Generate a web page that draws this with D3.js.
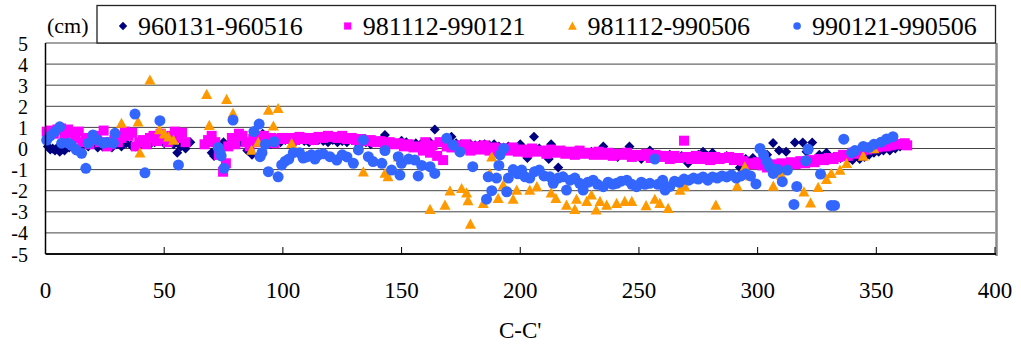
<!DOCTYPE html>
<html><head><meta charset="utf-8">
<script src="https://cdn.jsdelivr.net/npm/d3@7"></script>
<style>body{margin:0;background:#fff}svg{display:block}</style>
</head><body><svg id="c" width="1021" height="349"></svg>
<script>
const seriesNames = ["960131-960516","981112-990121","981112-990506","990121-990506"];
const xTicks = [0,50,100,150,200,250,300,350,400];
const yTicks = [-5,-4,-3,-2,-1,0,1,2,3,4,5];
const xTitle = "C-C'";
const yUnit = "(cm)";

const s960131 = [[1,0.1],[2,-0.05],[3,0.0],[4,-0.1],[5,0.05],[6,-0.15],[7,0.0],[8,-0.1],[10,0.05],[12,0.1],[14,0.0],[16,0.15],[18,0.1],[20,0.2],[22,0.05],[24,0.1],[26,0.15],[28,0.05],[30,0.2],[32,0.1],[34,0.25],[36,0.15],[38,0.1],[40,0.2],[42,0.3],[44,0.2],[46,0.3],[48,0.4],[50,0.25],[52,0.35],[54,0.2],[55.5,-0.2],[57,0.1],[59,0.0],[61,0.3],[68,0.2],[70,-0.2],[71,-0.35],[73,0.1],[75,0.3],[77,0.15],[79,0.4],[81,0.2],[83,0.3],[85,-0.1],[87,-0.3],[89,0.3],[91.5,0.7],[93,0.5],[95,0.2],[97,0.35],[99,0.3],[101,0.4],[103,0.35],[105,0.3],[107,0.4],[109,0.35],[111,0.3],[113,0.45],[115,0.4],[117,0.35],[119,0.3],[121,0.4],[123,0.3],[125,0.35],[127,0.3],[129,0.4],[131,0.3],[133,0.25],[135,0.3],[137,0.2],[139,0.3],[141,0.35],[143,0.64],[145,0.3],[147,0.25],[150,0.37],[152,0.3],[154,0.2],[156,0.25],[158,0.2],[160,0.15],[162,0.3],[164,0.9],[166,0.3],[168,0.2],[171,0.56],[173,0.25],[175,0.2],[177,0.15],[179,0.2],[181,0.15],[183,0.18],[185,0.2],[187,0.15],[189,0.2],[191,0.1],[193,0.05],[195,0.1],[197,0.0],[200,0.2],[203,-0.45],[205.8,0.56],[208,0.0],[210,-0.1],[212,-0.5],[213,0.2],[216,-0.9],[218,-0.1],[221,-0.15],[224,-0.1],[227,-0.2],[230,-0.15],[233,-0.2],[235,0.1],[238,-0.25],[241,-0.4],[244,-0.2],[246,0.1],[249,-0.3],[251,-0.5],[254.6,-0.1],[257,-0.3],[260,-0.35],[263,-0.3],[266,-0.4],[268,-0.35],[270.7,-0.7],[273,-0.4],[275,-0.3],[277,-0.15],[279,-0.35],[281,-0.2],[284,-0.4],[287,-0.35],[290,-0.45],[292.5,-0.9],[295,-0.5],[298,-0.45],[301,-0.6],[304,-0.3],[306.5,0.26],[309,-0.1],[312,-0.15],[315.7,0.28],[319,0.28],[320.6,-0.15],[323,0.28],[326,-0.3],[329,-0.2],[332,-0.4],[335,-0.45],[338,-0.5],[340,-0.55],[343,-0.5],[345,-0.4],[347,-0.3],[349,-0.2],[351,-0.15],[353,-0.1],[355.7,-0.1],[358,0.0],[360,0.1],[362,0.2]];

const s981112a = [[0.5,0.8],[2,0.85],[3.5,0.7],[5,0.9],[6.5,0.95],[8,0.6],[9.5,0.9],[11,0.75],[12.5,0.5],[14,0.8],[15.5,0.3],[17,0.5],[18.5,0.2],[20,0.4],[21.5,0.6],[23,0.3],[24.5,0.85],[26,0.1],[27.5,0.2],[29,0.4],[30.5,0.3],[32,0.5],[33.5,0.8],[35,0.6],[36.5,0.75],[38,0.1],[39.5,0.3],[41,0.4],[42.5,0.2],[44,0.5],[45.5,0.6],[47,0.35],[48.5,0.7],[50,0.45],[51.5,0.3],[53,0.6],[54.5,0.8],[56,0.5],[57.5,0.75],[59,0.3],[67,0.2],[68.5,0.4],[70,0.6],[71.5,0.3],[73,-0.3],[74.8,-1.1],[76,-0.7],[77,0.1],[78.5,0.5],[80,0.2],[81.5,0.7],[83,0.6],[84.5,0.3],[86,0.1],[87.5,0.45],[89,0.55],[90.5,0.3],[92,0.6],[93.5,0.4],[95,0.5],[96.5,0.25],[98,0.45],[99.5,0.5],[101,0.45],[103,0.5],[105,0.4],[107,0.55],[109,0.45],[111,0.5],[113,0.4],[115,0.55],[117,0.5],[119,0.6],[121,0.55],[123,0.5],[125,0.6],[127,0.45],[129,0.5],[131,0.4],[133,0.45],[135,0.35],[137,0.4],[139,0.3],[141,0.35],[143,0.25],[145,0.3],[147,0.2],[149,0.25],[151,0.1],[153,0.2],[155,0.05],[157,0.1],[159,-0.1],[160,0.3],[162,-0.2],[163,0.15],[165,-0.35],[166,0.3],[167.5,-0.55],[169,0.1],[171,0.05],[173,0.15],[175,0.0],[177,0.2],[179,-0.1],[181,0.1],[183,-0.05],[185,0.15],[187,-0.1],[189,0.05],[191,-0.15],[193,0.0],[195,-0.1],[197,0.05],[199,-0.15],[201,-0.05],[203,-0.2],[205,0.0],[207,-0.15],[209,-0.1],[211,-0.25],[213,-0.05],[215,-0.2],[217,-0.1],[219,-0.25],[221,-0.15],[223,-0.3],[225,-0.1],[227,-0.25],[229,-0.2],[231,-0.3],[233,-0.15],[235,-0.3],[237,-0.2],[239,-0.35],[241,-0.25],[243,-0.3],[245,-0.2],[247,-0.4],[249,-0.3],[251,-0.35],[253,-0.25],[255,-0.45],[257,-0.3],[259,-0.4],[261,-0.35],[263,-0.5],[265,-0.35],[267,-0.45],[269,0.37],[270,-0.4],[272,-0.5],[274,-0.35],[276,-0.5],[278,-0.4],[280,-0.55],[282,-0.4],[284,-0.5],[286,-0.45],[288,-0.4],[290,-0.55],[292,-0.45],[294,-0.6],[296,-0.7],[298,-0.75],[300,-0.65],[302,-0.8],[304,-0.9],[306,-0.75],[308,-0.85],[310,-0.7],[312,-0.8],[314,-0.65],[316,-0.75],[318,-0.6],[320,-0.7],[322,-0.55],[324,-0.65],[326,-0.5],[328,-0.55],[330,-0.45],[332,-0.5],[334,-0.4],[336,-0.3],[338,-0.35],[340,-0.2],[342,-0.25],[344,-0.1],[346,-0.05],[348,0.0],[350,0.05],[352,0.1],[354,0.1],[356,0.15],[358,0.2],[360,0.2],[362,0.25],[363,0.15]];

const s981112b = [[32,1.2],[39,1.27],[39.8,-0.2],[44,3.25],[48,0.9],[50,0.7],[51.8,0.55],[53.9,0.4],[67.9,2.57],[69,1.1],[76.3,2.33],[79,1.67],[86.8,-0.07],[89.6,0.3],[93.9,1.82],[96,1.07],[98,1.9],[103.7,0.25],[110,-0.35],[133.9,-1.1],[143,-1.17],[144.3,-1.33],[148.6,-0.39],[162,-2.88],[168.3,-2.68],[170.4,-2.0],[175.3,-1.89],[177.4,-2.1],[178,-2.47],[179,-3.58],[184.4,-2.6],[187.2,-1.18],[188,-0.39],[190.7,-2.36],[192.8,-1.73],[197,-2.4],[198.5,-1.97],[204,-1.97],[207,-1.8],[213,-2.1],[215,-2.36],[219.5,-2.68],[223,-2.88],[223.7,-2.4],[228,-2.5],[230,-2.2],[232,-2.91],[233.6,-2.5],[236.4,-2.68],[240.6,-2.6],[244,-2.5],[247,-2.5],[253,-2.7],[256.7,-2.4],[258.8,-2.6],[262.3,-2.83],[267.3,-1.97],[269.4,-1.8],[282.4,-2.68],[291.4,-1.78],[294.6,-0.86],[297,-1.3],[306.6,-1.78],[310,-1.25],[319.5,-2.05],[322.3,-2.57],[325.5,-1.84],[329,-1.46],[331,-1.18],[334.7,-1.02],[337.5,-0.7],[344.5,-0.36],[349,0.0]];

const s990121 = [[0.5,0.4],[2,0.6],[4,0.8],[6,1.03],[6.8,0.25],[9.6,0.25],[11,0.15],[13,-0.07],[15.2,-0.23],[17,-0.94],[18,0.25],[20,0.64],[22,0.4],[24.3,0.25],[26,0.3],[28.6,0.25],[29.3,0.72],[37.7,1.63],[41.9,-1.15],[48.2,1.32],[56,-0.78],[72.8,0.05],[73.5,-0.2],[74,-0.35],[75.2,-0.94],[79,1.35],[87.8,0.8],[90,1.16],[90.4,-0.39],[91.2,-0.2],[92.6,0.2],[93.9,-1.1],[96.3,0.32],[98,-1.34],[99.5,-0.78],[101,-0.6],[102.5,-0.5],[104.4,-0.2],[107,-0.2],[108.5,-0.45],[110,-0.4],[112,-0.3],[113.5,-0.5],[115,-0.3],[117,-0.25],[119.8,-0.39],[122.7,-0.55],[125,-0.3],[127,-0.4],[129.7,-0.7],[131.8,-0.07],[133.9,0.4],[136,-0.39],[138,-0.62],[141.7,-0.7],[143,-0.1],[145.8,-1.02],[148.6,-0.39],[149.3,-1.26],[150,-0.7],[153,-0.5],[155.6,-0.55],[157,-1.3],[158.5,-0.8],[162,-0.86],[164,-1.18],[169,0.48],[171.8,0.16],[174.6,-0.16],[180,-0.86],[185.8,-2.4],[186.5,-1.34],[188,-2.0],[190,-1.4],[191,-0.8],[191.5,-0.3],[193,0.0],[194.3,-2.05],[195,-1.4],[197,-1.0],[199,-1.2],[200.6,-1.02],[202,-1.34],[204,-1.4],[206,-1.1],[208,-1.02],[210,-1.3],[212.5,-1.34],[213.9,-1.65],[216,-1.4],[218,-1.34],[219.5,-1.97],[221,-1.5],[223,-1.4],[225,-1.65],[226.5,-1.97],[228.5,-1.6],[230.7,-1.5],[232.5,-1.7],[235,-1.81],[237,-1.6],[239,-1.7],[240.6,-1.65],[242.5,-1.55],[244.9,-1.5],[247,-1.7],[249,-1.81],[251,-1.6],[252.5,-1.7],[254.6,-1.65],[256.7,-0.5],[258,-1.7],[260,-1.5],[261,-1.97],[263,-1.8],[265,-1.55],[267,-1.6],[269,-1.45],[271,-1.5],[273,-1.4],[275,-1.45],[277,-1.35],[279,-1.5],[281,-1.35],[283,-1.4],[285,-1.3],[287,-1.35],[289,-1.25],[291,-1.4],[293,-1.3],[295,-1.2],[297,-1.3],[299.3,-1.68],[301,0.0],[302.5,-0.3],[304,-0.62],[305,-0.86],[306.6,-1.18],[307,-1.0],[308.5,-1.0],[310.4,-1.57],[312.5,-1.02],[315.3,-2.65],[316.5,-1.8],[320.3,-0.58],[321.3,-0.04],[326.5,-1.21],[331,-2.7],[332.4,-2.7],[336.3,0.44],[339.6,-0.2],[341,-0.1],[344.5,0.1],[347,0.05],[349,0.2],[352,0.3],[354.3,0.45],[357,0.56]];

const FONT = "Liberation Serif, Tinos, DejaVu Serif, Noto Serif, FreeSerif, Times, serif";
const svg = d3.select("#c");
const x = d3.scaleLinear().domain([0,400]).range([45.5,995]);
const y = d3.scaleLinear().domain([-5,5]).range([254,43]);

// gridlines
svg.append("g").selectAll("line").data(yTicks.filter(t=>t>-5)).join("line")
  .attr("x1",x(0)).attr("x2",x(400)).attr("y1",d=>y(d)).attr("y2",d=>y(d))
  .attr("stroke","#444").attr("stroke-width",1);
// right border (gray)
svg.append("line").attr("x1",x(400)+1.5).attr("x2",x(400)+1.5).attr("y1",y(5)).attr("y2",y(-5)+2)
  .attr("stroke","#8a8a8a").attr("stroke-width",2.5);

function txt(sel){return sel.attr("font-family",FONT).attr("fill","#000");}
// y labels
txt(svg.append("g").selectAll("text").data(yTicks).join("text")
  .attr("x",28).attr("y",d=>y(d)+7.5).attr("text-anchor","end")
  .attr("font-size",20).text(d=>d));
// x labels
txt(svg.append("g").selectAll("text").data(xTicks).join("text")
  .attr("x",d=>x(d)).attr("y",298).attr("text-anchor","middle")
  .attr("font-size",23).text(d=>d));
txt(svg.append("text").attr("x",(x(0)+x(400))/2).attr("y",338).attr("text-anchor","middle")
  .attr("font-size",23).text(xTitle));
txt(svg.append("text").attr("x",47).attr("y",33).attr("font-size",22).text(yUnit));

// markers
function diamond(r){return `M0,${-r}L${r},0L0,${r}L${-r},0Z`;}
function square(r){return `M${-r},${-r}H${r}V${r}H${-r}Z`;}
function triangle(r){return `M0,${-r}L${r},${r*0.85}L${-r},${r*0.85}Z`;}
function circle(r){return `M${r},0A${r},${r} 0 1,1 ${-r},0A${r},${r} 0 1,1 ${r},0Z`;}
const styles = [
  {data:s960131, color:"#000080", shape:diamond, r:5, lr:4.2},
  {data:s981112a, color:"#FF00FF", shape:square, r:5, lr:3.6},
  {data:s981112b, color:"#FF9900", shape:triangle, r:5.5, lr:4.4},
  {data:s990121, color:"#3366FF", shape:circle, r:5.5, lr:3.8}
];
const plot = svg.append("g");
styles.forEach(s=>{
  plot.append("g").selectAll("path").data(s.data).join("path")
    .attr("transform",d=>`translate(${x(d[0])},${y(d[1])})`)
    .attr("d",s.shape(s.r)).attr("fill",s.color);
});

// axes lines
svg.append("line").attr("x1",x(0)).attr("x2",x(0)).attr("y1",y(5)).attr("y2",y(-5)).attr("stroke","#000").attr("stroke-width",1.5);
svg.append("line").attr("x1",x(0)).attr("x2",x(400)+1).attr("y1",y(-5)).attr("y2",y(-5)).attr("stroke","#111").attr("stroke-width",2);
svg.append("g").selectAll("line").data(xTicks.slice(1)).join("line")
  .attr("x1",d=>x(d)).attr("x2",d=>x(d)).attr("y1",y(-5)).attr("y2",y(-5)-7)
  .attr("stroke","#000").attr("stroke-width",1);

// legend
const lg = svg.append("g");
lg.append("rect").attr("x",97).attr("y",5.5).attr("width",898.5).attr("height",37.5)
  .attr("fill","#fff").attr("stroke","#222").attr("stroke-width",1.3);
styles.forEach((s,i)=>{
  const cx = 123 + i*224.7;
  lg.append("path").attr("transform",`translate(${cx},26)`).attr("d",s.shape(s.lr)).attr("fill",s.color);
  txt(lg.append("text").attr("x",cx+15).attr("y",35).attr("font-size",26).text(seriesNames[i]));
});
</script></body></html>
